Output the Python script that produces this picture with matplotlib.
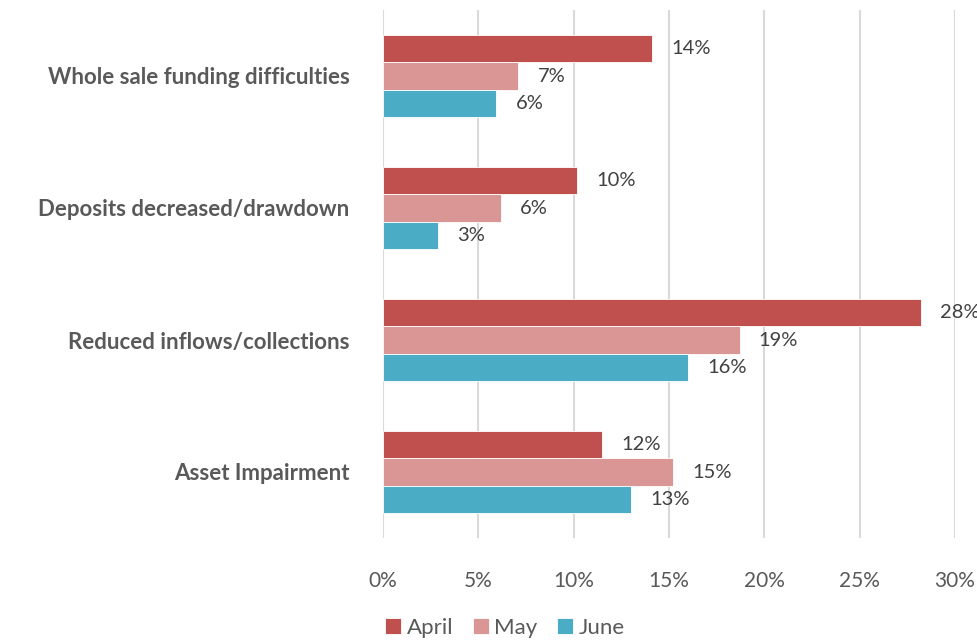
import matplotlib
matplotlib.use("Agg")
import matplotlib.pyplot as plt
import numpy as np

categories = ["Whole sale funding difficulties", "Deposits decreased/drawdown",
              "Reduced inflows/collections", "Asset Impairment"]
series_names = ["April", "May", "June"]
april = [14.1, 10.2, 28.2, 11.5]
may = [7.1, 6.2, 18.7, 15.2]
june = [5.95, 2.9, 16.0, 13.0]
labels_april = ["14%", "10%", "28%", "12%"]
labels_may = ["7%", "6%", "19%", "15%"]
labels_june = ["6%", "3%", "16%", "13%"]
xticks = [0, 5, 10, 15, 20, 25, 30]
xtick_labels = ["0%", "5%", "10%", "15%", "20%", "25%", "30%"]

colors = ["#C0504D", "#DA9694", "#4BACC6"]
plt.rcParams['font.family'] = ['Lato', 'DejaVu Sans']

fig = plt.figure(figsize=(9.78, 6.43), dpi=100)
ax = fig.add_axes([383/978, 1 - 538/643, (955-383)/978, (538-10)/643])

n = len(categories)
y = np.arange(n)
h = 0.205
data = [april, may, june]
labs = [labels_april, labels_may, labels_june]
for i, (vals, lab, c, name) in enumerate(zip(data, labs, colors, series_names)):
    pos = y + (i - 1) * h
    bars = ax.barh(pos, vals, height=h, color=c, edgecolor="white", linewidth=0.6,
                   label=name, zorder=3)
    for b, t in zip(bars, lab):
        ax.text(b.get_width() + 1.0, b.get_y() + b.get_height()/2, t,
                va="center", ha="left", fontsize=14.5, color="#404040")

ax.set_ylim(n - 0.5, -0.5)
ax.set_xlim(0, 30)
ax.set_xticks(xticks)
ax.set_xticklabels(xtick_labels, fontsize=15, color="#595959")
ax.set_yticks(y)
ax.set_yticklabels(categories, fontsize=16, fontweight="bold", color="#595959")
ax.tick_params(axis="both", length=0)
ax.tick_params(axis="y", pad=24)
ax.tick_params(axis="x", pad=24)
ax.grid(axis="x", color="#D9D9D9", linewidth=1.5, zorder=0)
for s in ax.spines.values():
    s.set_visible(False)

fig.legend(loc="center", bbox_to_anchor=(505/978, 1 - 628/643), ncol=3, frameon=False,
           fontsize=16, handlelength=0.7, handleheight=0.7, handletextpad=0.25,
           columnspacing=0.9, labelcolor="#595959")

fig.savefig("out.png", dpi=100)
